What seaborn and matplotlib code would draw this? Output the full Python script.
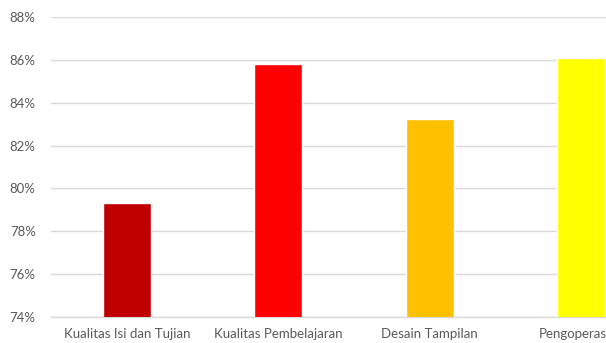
import matplotlib
matplotlib.use("Agg")
import matplotlib.pyplot as plt
from matplotlib.ticker import FuncFormatter, MultipleLocator
import seaborn as sns
import pandas as pd

categories = ["Kualitas Isi dan Tujian", "Kualitas Pembelajaran", "Desain Tampilan", "Pengoperasian"]
values = [79.3, 85.8, 83.25, 86.1]
colors = ["#C00000", "#FF0000", "#FFC000", "#FFFF00"]

sns.set_theme(style="white")
plt.rcParams["font.family"] = ["Lato", "DejaVu Sans"]

df = pd.DataFrame({"kategori": categories, "nilai": values})

fig = plt.figure(figsize=(6.06, 3.43), dpi=100)
ax = fig.add_axes([51 / 606, 26 / 343, 1.0, 300 / 343])

sns.barplot(data=df, x="kategori", y="nilai", hue="kategori", palette=colors,
            width=0.317, legend=False, ax=ax, saturation=1, zorder=3)

ax.set_ylim(74, 88)
ax.set_xlim(-0.5, 3.5)
ax.yaxis.set_major_locator(MultipleLocator(2))
ax.yaxis.set_major_formatter(FuncFormatter(lambda v, _: f"{v:.0f}%"))
ax.grid(axis="y", color="#D9D9D9", linewidth=1.0, zorder=0)
ax.set_xlabel("")
ax.set_ylabel("")
for side in ["top", "right", "left"]:
    ax.spines[side].set_visible(False)
ax.spines["bottom"].set_color("#D9D9D9")
ax.spines["bottom"].set_linewidth(1.0)
ax.tick_params(axis="both", length=0, colors="#595959", labelsize=9.5)
ax.tick_params(axis="y", pad=11)
ax.tick_params(axis="x", pad=8)

fig.savefig("out.png", dpi=100)
